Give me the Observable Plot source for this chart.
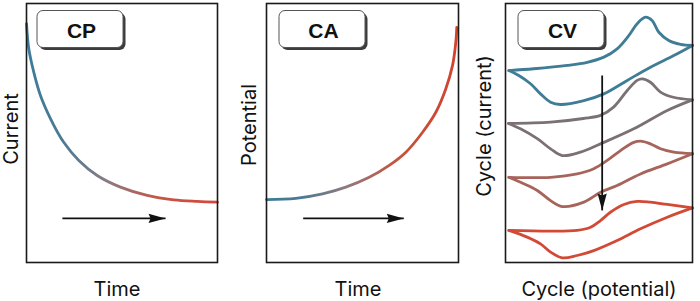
<!DOCTYPE html>
<html>
<head>
<meta charset="utf-8">
<script src="https://cdn.jsdelivr.net/npm/d3@7"></script>
<script src="https://cdn.jsdelivr.net/npm/@observablehq/plot@0.6"></script>
<style>
  html, body { margin: 0; padding: 0; background: #fff; }
  #chart { position: relative; width: 700px; height: 301px; overflow: hidden; background: #fff; }
  #chart svg { position: absolute; top: 0; }
</style>
</head>
<body>
<div id="chart"></div>
<script>
// ---------- texts ----------
const panelTitles = ["CP", "CA", "CV"];
const yLabels = ["Current", "Potential", "Cycle (current)"];
const xLabels = ["Time", "Time", "Cycle (potential)"];

// ---------- CP: current decaying with time (normalised 0–100) ----------
const cpTime    = [0, 1.2, 3.8, 7.3, 12.6, 19.5, 27.4, 37.0, 49.2, 63.2, 77.1, 89.4, 100];
const cpCurrent = [92.2, 82.5, 73.5, 64.5, 55.5, 46.4, 39.4, 33.6, 29.1, 25.9, 24.2, 23.6, 23.3];

// ---------- CA: potential rising with time ----------
const caTime      = [0, 15.3, 29.2, 41.3, 53.5, 63.9, 72.6, 81.3, 88.2, 93.4, 96.9, 98.6, 99.1];
const caPotential = [24.3, 24.8, 26.5, 29.1, 32.9, 37.5, 42.6, 50.3, 58.0, 67.1, 76.1, 85.1, 90.8];

// ---------- CV: four cycles, forward and reverse scans ----------
const cvCycles = ["Cycle 1", "Cycle 2", "Cycle 3", "Cycle 4"];
const cvForwardE = [
  [1.8, 15.1, 33.0, 43.7, 52.6, 59.7, 65.9, 70.4, 74.9, 78.4, 82.0, 87.3, 93.6, 100],
  [1.6, 24.1, 41.7, 50.8, 57.8, 65.1, 70.4, 73.1, 77.5, 82.9, 89.8, 100],
  [1.8, 24.1, 38.3, 47.2, 54.4, 61.5, 68.6, 73.1, 77.5, 82.9, 90.0, 100],
  [1.8, 24.1, 38.3, 45.5, 50.8, 56.1, 63.3, 70.4, 77.5, 86.5, 100]
];
const cvForwardI = [
  [74.1, 74.8, 76.1, 77.3, 79.3, 82.5, 87.6, 92.2, 94.7, 93.4, 88.9, 85.7, 84.2, 83.8],
  [53.7, 54.2, 55.6, 56.8, 60.0, 66.4, 70.3, 70.9, 69.6, 65.8, 63.8, 62.8],
  [32.9, 32.9, 34.2, 36.2, 39.4, 43.2, 46.4, 46.8, 45.8, 43.9, 42.6, 42.0],
  [12.4, 12.1, 12.4, 13.6, 16.2, 19.4, 22.4, 23.6, 23.3, 22.4, 21.1]
];
const cvReverseE = [
  [100, 90.0, 77.5, 65.1, 52.6, 41.9, 29.4, 24.1, 18.7, 13.4, 7.1, 1.8],
  [100, 86.5, 68.6, 50.8, 40.1, 30.3, 24.1, 17.0, 8.0, 1.6],
  [100, 86.5, 72.2, 59.7, 50.8, 41.9, 30.3, 24.1, 17.0, 9.8, 1.8],
  [100, 86.5, 72.2, 59.7, 47.2, 38.3, 30.3, 24.1, 18.7, 11.6, 1.8]
];
const cvReverseI = [
  [83.8, 79.9, 75.4, 70.3, 65.1, 62.5, 61.0, 61.9, 65.1, 69.0, 72.2, 74.1],
  [62.8, 58.7, 51.6, 45.8, 42.6, 41.3, 43.9, 47.8, 51.6, 53.7],
  [42.0, 38.1, 34.2, 29.7, 27.1, 23.3, 21.6, 23.9, 27.8, 30.4, 32.9],
  [21.1, 17.5, 13.0, 8.5, 4.6, 2.7, 1.8, 4.0, 7.2, 9.8, 12.4]
];

// ---------- direction arrows (data units) ----------
const cpArrow = {x1: 18.8, x2: 72.8, y1: 17.0, y2: 17.0};
const caArrow = {x1: 19.1, x2: 71.5, y1: 17.0, y2: 17.0};
const cvArrow = {x1: 51.7, x2: 51.7, y1: 72.2, y2: 20.1};

// ---------- styles ----------
const cvColors = ["#3f7c95", "#7b7175", "#a6645b", "#d24a35"];
const FONT = "Inter, 'Noto Sans', sans-serif";

// ---------- tables ----------
const cpRows = cpTime.map((t, k) => ({t, v: cpCurrent[k]}));
const caRows = caTime.map((t, k) => ({t, v: caPotential[k]}));
const cvRows = [];
cvCycles.forEach((c, k) => {
  cvForwardE[k].forEach((e, j) => cvRows.push({cycle: c, branch: "fwd", e, i: cvForwardI[k][j]}));
  cvReverseE[k].forEach((e, j) => cvRows.push({cycle: c, branch: "rev", e, i: cvReverseI[k][j]}));
});

// arrowhead symbol pointing right, tip at origin
const arrowHead = {
  draw(ctx) {
    ctx.moveTo(0, 0);
    ctx.lineTo(-17, -4.6);
    ctx.lineTo(-15, 0);
    ctx.lineTo(-17, 4.6);
    ctx.closePath();
  }
};

function gradientDefs(id, stops) {
  return () => {
    const g = d3.create("svg:g");
    const lg = g.append("defs").append("linearGradient")
      .attr("id", id).attr("x1", "0").attr("x2", "1").attr("y1", "0").attr("y2", "0");
    stops.forEach(([o, c]) => lg.append("stop").attr("offset", o).attr("stop-color", c));
    return g.node();
  };
}

function labelBox(text, inset) {
  return (index, scales, values, dims) => {
    const g = d3.create("svg:g");
    const x = dims.marginLeft + inset, y = dims.marginTop + 7.5, w = 86, h = 37;
    g.append("rect").attr("x", x + 2.5).attr("y", y + 2.5).attr("width", w).attr("height", h)
      .attr("rx", 6).attr("fill", "#3c3c3c");
    g.append("rect").attr("x", x).attr("y", y).attr("width", w).attr("height", h)
      .attr("rx", 6).attr("fill", "#fff").attr("stroke", "#555").attr("stroke-width", 1);
    g.append("text").attr("x", x + w / 2 + 1.5).attr("y", y + h / 2 + 1)
      .attr("text-anchor", "middle").attr("dominant-baseline", "central")
      .attr("font-family", "'Liberation Sans', Arial, sans-serif").attr("font-weight", "bold")
      .attr("font-size", 21).attr("fill", "#111").text(text);
    return g.node();
  };
}

function arrowMarks(a, rot) {
  return [
    Plot.link([a], {x1: "x1", y1: "y1", x2: "x2", y2: "y2", stroke: "#111", strokeWidth: 1.8}),
    Plot.dot([a], {x: "x2", y: "y2", symbol: arrowHead, fill: "#111", stroke: null, r: 5, rotate: rot})
  ];
}

function labels(k, ydx, ydy, xdx) {
  return [
    Plot.text([yLabels[k]], {text: d => d, frameAnchor: "left", rotate: -90, dx: ydx, dy: ydy,
      lineAnchor: "bottom", textAnchor: "middle", fontSize: 20, fontFamily: FONT, fill: "#111"}),
    Plot.text([xLabels[k]], {text: d => d, frameAnchor: "bottom", dx: xdx, dy: 33,
      lineAnchor: "bottom", textAnchor: "middle", fontSize: 20, fontFamily: FONT, fill: "#111"})
  ];
}

function panel(width, marginLeft, marginRight, marks, extra = {}) {
  return Plot.plot({
    width, height: 301, marginLeft, marginRight, marginTop: 3, marginBottom: 39,
    x: {domain: [0, 100], axis: null},
    y: {domain: [0, 100], axis: null},
    style: {fontFamily: FONT, background: "transparent", overflow: "visible"},
    ...extra,
    marks
  });
}

const p1 = panel(233, 26, 16, [
  gradientDefs("cpGrad", [[0, "#3b7c99"], [0.2, "#4f7a93"], [0.42, "#8a7b82"], [0.7, "#c65544"], [1, "#d5463a"]]),
  Plot.line(cpRows, {x: "t", y: "v", stroke: "url(#cpGrad)", strokeWidth: 2.8, curve: "catmull-rom"}),
  ...arrowMarks(cpArrow, 0),
  labelBox(panelTitles[0], 11),
  ...labels(0, -9, -4, -5),
  Plot.frame({stroke: "#1a1a1a", strokeWidth: 1.6})
]);

const p2 = panel(233, 33, 8, [
  gradientDefs("caGrad", [[0, "#3b7b97"], [0.2, "#4e7a92"], [0.42, "#8f7a80"], [0.68, "#c5533f"], [1, "#d2432f"]]),
  Plot.line(caRows, {x: "t", y: "v", stroke: "url(#caGrad)", strokeWidth: 2.8, curve: "catmull-rom"}),
  ...arrowMarks(caArrow, 0),
  labelBox(panelTitles[1], 13),
  ...labels(1, -11, -8, -4.5),
  Plot.frame({stroke: "#1a1a1a", strokeWidth: 1.6})
]);

const p3 = panel(234, 39, 8, [
  Plot.line(cvRows, {x: "e", y: "i", z: d => d.cycle + d.branch, stroke: "cycle",
    strokeWidth: 2.8, curve: "catmull-rom", strokeLinecap: "round"}),
  ...arrowMarks(cvArrow, 90),
  labelBox(panelTitles[2], 13),
  ...labels(2, -15, -7, 0),
  Plot.frame({stroke: "#1a1a1a", strokeWidth: 1.6})
], {color: {domain: cvCycles, range: cvColors}});

const chart = document.getElementById("chart");
[[p1, 0], [p2, 233], [p3, 466]].forEach(([svg, left]) => {
  svg.style.left = left + "px";
  chart.appendChild(svg);
});
</script>
</body>
</html>
